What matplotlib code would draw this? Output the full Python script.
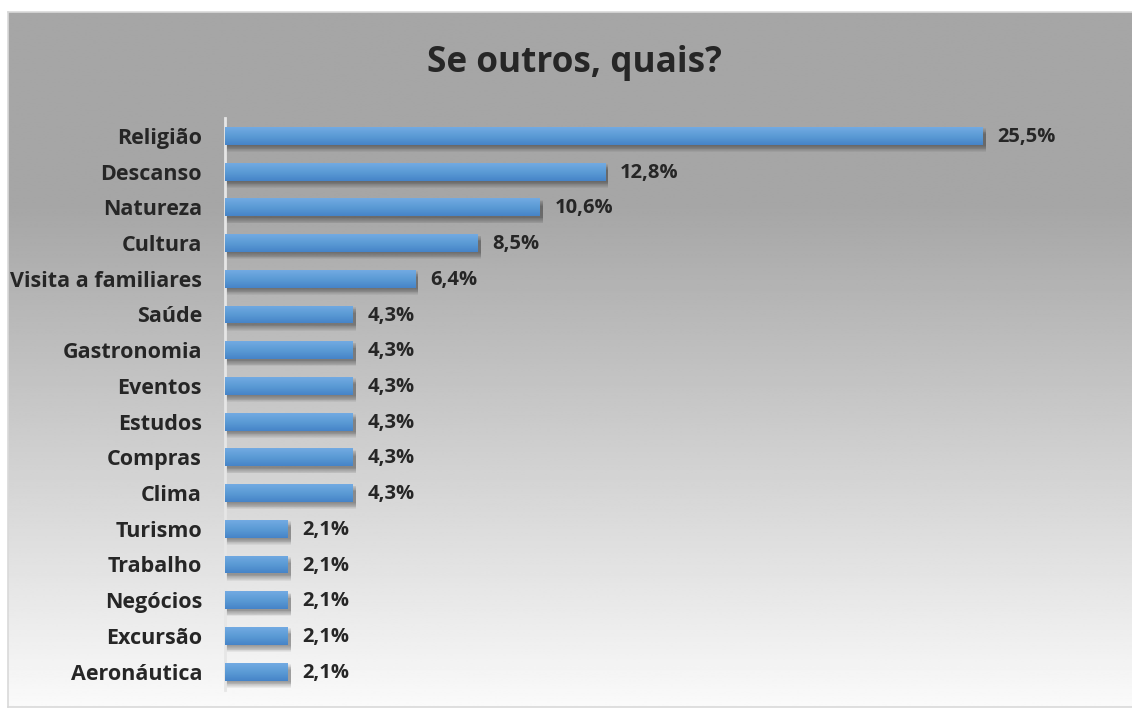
import matplotlib
matplotlib.use("Agg")
import matplotlib.pyplot as plt
import numpy as np
from matplotlib.patches import Rectangle
from matplotlib.colors import LinearSegmentedColormap

categories = ["Religião", "Descanso", "Natureza", "Cultura", "Visita a familiares",
              "Saúde", "Gastronomia", "Eventos", "Estudos", "Compras", "Clima",
              "Turismo", "Trabalho", "Negócios", "Excursão", "Aeronáutica"]
values = [25.5, 12.8, 10.6, 8.5, 6.4, 4.3, 4.3, 4.3, 4.3, 4.3, 4.3,
          2.1, 2.1, 2.1, 2.1, 2.1]
labels = ["25,5%", "12,8%", "10,6%", "8,5%", "6,4%", "4,3%", "4,3%", "4,3%",
          "4,3%", "4,3%", "4,3%", "2,1%", "2,1%", "2,1%", "2,1%", "2,1%"]
title = "Se outros, quais?"

W, H = 1132, 709
plt.rcParams['font.family'] = ['Open Sans', 'DejaVu Sans']
fig = plt.figure(figsize=(W / 100, H / 100), dpi=100, facecolor="white")

# ---- chart area background (gray -> white gradient) ----
bg = fig.add_axes([0, 0, 1, 1], zorder=0)
bg.set_xlim(0, W)
bg.set_ylim(H, 0)
bg.axis("off")
ys = np.linspace(0, 1, 400)
shade = np.where(ys < 0.28, 166, 166 + (ys - 0.28) / 0.72 * 84) / 255.0
grad = np.repeat(shade[:, None], 2, axis=1)
bg.imshow(grad, cmap="gray", vmin=0, vmax=1, extent=[8, W + 5, 707, 12],
          aspect="auto", interpolation="bilinear")
bg.plot([8, W + 5], [12, 12], color="#d9d9d9", lw=1.2)
bg.plot([8, 8], [12, 707], color="#d9d9d9", lw=1.2)
bg.plot([8, W + 5], [707, 707], color="#d9d9d9", lw=1.2)

bg.text(574, 63, title, ha="center", va="center", fontsize=25.3,
        fontweight="bold", color="#262626")

# ---- bars ----
left_px, right_px, top_px, bot_px = 225, 225 + 891, 118, 689.5
ax = fig.add_axes([left_px / W, 1 - bot_px / H, (right_px - left_px) / W,
                   (bot_px - top_px) / H], zorder=1)
ax.patch.set_alpha(0)
n = len(categories)
y = np.arange(n)
ax.set_xlim(0, 30)
ax.set_ylim(n - 0.5, -0.5)

bar_h = 0.5
bar_cmap = LinearSegmentedColormap.from_list("b", ["#72aae2", "#5b9bd5", "#4684c8"])
gimg = np.linspace(0, 1, 50)[:, None]
for i, v in enumerate(values):
    # soft shadow (stacked faint layers)
    for k in np.linspace(0.04, 0.2, 8):
        ax.add_patch(Rectangle((0.05, y[i] - bar_h / 2 + k), v + 0.06, bar_h,
                               facecolor="black", alpha=0.05, lw=0, zorder=2))
    r = Rectangle((0, y[i] - bar_h / 2), v, bar_h, facecolor="#5b9bd5", lw=0, zorder=3)
    ax.add_patch(r)
    im = ax.imshow(gimg, cmap=bar_cmap, extent=[0, v, y[i] + bar_h / 2, y[i] - bar_h / 2],
                   aspect="auto", zorder=4, interpolation="bilinear")
    im.set_clip_path(r)
    ax.text(v + 0.5, y[i] + 0.03, labels[i], ha="left", va="center", fontsize=14.5,
            fontweight="bold", color="#262626", zorder=5)

ax.set_yticks(y)
ax.set_yticklabels(categories, fontsize=15.5, fontweight="bold", color="#262626")
ax.tick_params(axis="y", length=0, pad=16.5)
ax.set_xticks([])
for s in ["top", "right", "bottom"]:
    ax.spines[s].set_visible(False)
ax.spines["left"].set_color("#e6e6e6")
ax.spines["left"].set_linewidth(2)

fig.savefig("out.png", dpi=100, facecolor="white")
